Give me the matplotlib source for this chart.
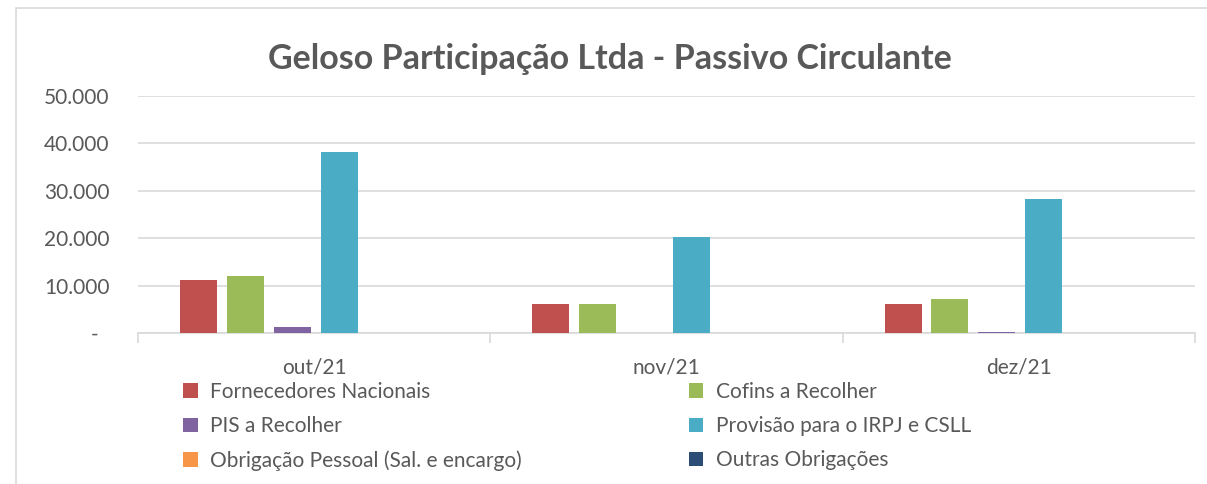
import matplotlib
matplotlib.use("Agg")
import matplotlib.pyplot as plt
from matplotlib.patches import Rectangle, Patch
from matplotlib.ticker import FuncFormatter, FixedLocator
import numpy as np

plt.rcParams['font.family'] = ['Lato', 'DejaVu Sans']

categories = ["out/21", "nov/21", "dez/21"]
series_names = ["Fornecedores Nacionais", "Cofins a Recolher", "PIS a Recolher",
                "Provisão para o IRPJ e CSLL", "Obrigação Pessoal (Sal. e encargo)",
                "Outras Obrigações"]
fornecedores = [11200, 6150, 6150]
cofins = [12100, 6150, 7150]
pis = [1250, 0, 200]
provisao = [38100, 20300, 28200]
obrigacao = [0, 0, 0]
outras = [0, 0, 0]
values = [fornecedores, cofins, pis, provisao, obrigacao, outras]
colors = ["#C0504D", "#9BBB59", "#8064A2", "#4BACC6", "#F79646", "#2C4D75"]
yticks = [0, 10000, 20000, 30000, 40000, 50000]

W, H = 1207, 484
fig = plt.figure(figsize=(W / 100, H / 100), dpi=100)
fig.patches.append(Rectangle((16 / W, -0.1), 1.2, 1 - 8 / H + 0.1, transform=fig.transFigure,
                             fill=False, edgecolor="#D9D9D9", linewidth=1.2))

ax = fig.add_axes([138 / W, 1 - 333 / H, (1195 - 138) / W, (333 - 96) / H])
txt = "#595959"
x = np.arange(len(categories))
step = 0.133
width = 0.105
offset0 = -0.5 + 0.119 + width / 2
for i, (name, vals, c) in enumerate(zip(series_names, values, colors)):
    ax.bar(x + offset0 + i * step, vals, width=width, color=c, label=name, zorder=3)

ax.set_xlim(-0.5, len(categories) - 0.5)
ax.set_ylim(0, 50000)
ax.set_yticks(yticks)
ax.yaxis.set_major_formatter(FuncFormatter(
    lambda v, p: "-  " if v == 0 else f"{int(v):,}".replace(",", ".")))
ax.grid(axis="y", color="#D9D9D9", linewidth=1.2, zorder=0)
for s in ["top", "right", "left"]:
    ax.spines[s].set_visible(False)
ax.spines["bottom"].set_color("#D9D9D9")
ax.spines["bottom"].set_linewidth(1.2)
ax.tick_params(axis="y", length=0, labelsize=15, labelcolor=txt, pad=20.5)
ax.set_xticks(x)
ax.set_xticklabels(categories)
ax.tick_params(axis="x", which="major", length=0, labelsize=15, labelcolor=txt, pad=18)
ax.xaxis.set_minor_locator(FixedLocator([-0.5, 0.5, 1.5, 2.5]))
ax.tick_params(axis="x", which="minor", length=7, color="#D9D9D9", width=1.2)

fig.text(0.5 + 0.005, 1 - 59 / H, "Geloso Participação Ltda - Passivo Circulante",
         ha="center", va="center", fontsize=24.5, fontweight="bold", color=txt)

order = [0, 2, 4, 1, 3, 5]
handles = [Patch(facecolor=colors[i], edgecolor="none") for i in order]
labels = [series_names[i] for i in order]
leg = fig.legend(handles, labels, ncol=2, loc="upper left",
                 bbox_to_anchor=(183 / W, 1 - 382 / H), frameon=False,
                 fontsize=15, handlelength=0.7, handleheight=0.7,
                 handletextpad=0.6, columnspacing=8.0, labelspacing=0.68,
                 borderaxespad=0, borderpad=0)
for t in leg.get_texts():
    t.set_color(txt)

fig.savefig("out.png", dpi=100, facecolor="white")
